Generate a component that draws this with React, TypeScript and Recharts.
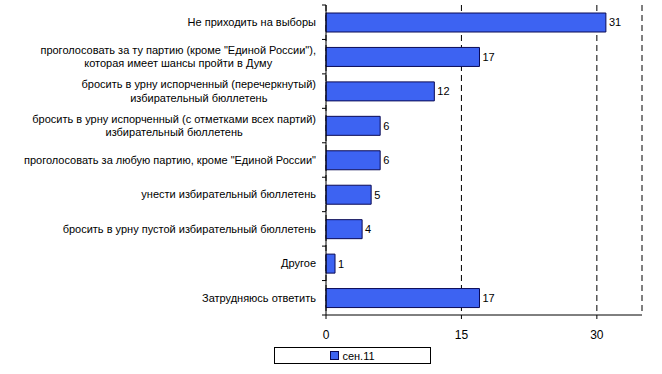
import { BarChart, Bar, XAxis, YAxis, CartesianGrid, LabelList, Legend } from "recharts";

const categories = [
  "Не приходить на выборы",
  'проголосовать за ту партию (кроме "Единой России"),\nкоторая имеет шансы пройти в Думу',
  "бросить в урну испорченный (перечеркнутый)\nизбирательный бюллетень",
  "бросить в урну испорченный (с отметками всех партий)\nизбирательный бюллетень",
  'проголосовать за любую партию, кроме "Единой России"',
  "унести избирательный бюллетень",
  "бросить в урну пустой избирательный бюллетень",
  "Другое",
  "Затрудняюсь ответить",
];
const values = [31, 17, 12, 6, 6, 5, 4, 1, 17];
const seriesName = "сен.11";
const xTicks = [0, 15, 30];
const xMax = 35;

const rows = categories.map((name, i) => ({ name, value: values[i] }));

const W = 662;
const H = 374;
const MARGIN = { top: 5, right: 20, bottom: 29, left: 0 };
const X_AXIS_H = 30;
const Y_AXIS_W = 326;
const TICK_SIZE = 4;
const TICK_MARGIN = 6;
const FONT = "Liberation Sans, Arial, sans-serif";
const BLUE = "#3d63f2";
const EDGE = "#0a0a55";

let ctx: CanvasRenderingContext2D | null = null;
function textWidth(s: string) {
  if (!ctx) ctx = document.createElement("canvas").getContext("2d");
  if (!ctx) return s.length * 5.5;
  ctx.font = `11px ${FONT}`;
  return ctx.measureText(s).width;
}

function CategoryTick(props: any) {
  const { x, y, payload, index } = props;
  const lines = String(payload.value).split("\n");
  const band = (H - MARGIN.top - MARGIN.bottom - X_AXIS_H) / categories.length;
  const axisX = x + TICK_SIZE + TICK_MARGIN;
  const blockW = Math.max(...lines.map(textWidth));
  const cx = x - blockW / 2;
  const lh = 13.4;
  return (
    <g>
      <line x1={axisX - TICK_SIZE} x2={axisX} y1={y - band / 2} y2={y - band / 2} stroke="#000" />
      {index === categories.length - 1 && (
        <line x1={axisX - TICK_SIZE} x2={axisX} y1={y + band / 2} y2={y + band / 2} stroke="#000" />
      )}
      {lines.map((l, i) => (
        <text
          key={i}
          x={cx}
          y={y + (i - (lines.length - 1) / 2) * lh}
          textAnchor="middle"
          dominantBaseline="central"
          fontSize={11}
          fill="#000"
        >
          {l}
        </text>
      ))}
    </g>
  );
}

function LegendBox() {
  return (
    <div
      style={{
        boxSizing: "border-box",
        width: "100%",
        height: "100%",
        border: "1px solid #000",
        background: "#fff",
        display: "flex",
        alignItems: "center",
        justifyContent: "center",
        fontSize: 11,
        color: "#000",
      }}
    >
      <span
        style={{
          display: "inline-block",
          width: 7,
          height: 7,
          background: BLUE,
          border: `1px solid ${EDGE}`,
          marginRight: 3,
        }}
      />
      {seriesName}
    </div>
  );
}

export default function App() {
  return (
    <div style={{ position: "absolute", left: 0, top: 0, width: W, height: H, background: "#fff", fontFamily: FONT }}>
      <BarChart width={W} height={H} data={rows} layout="vertical" margin={MARGIN}>
        <CartesianGrid horizontal={false} vertical stroke="#000" strokeDasharray="6 4" />
        <XAxis
          type="number"
          domain={[0, xMax]}
          ticks={xTicks}
          height={X_AXIS_H}
          axisLine={{ stroke: "#000" }}
          tickLine={{ stroke: "#000" }}
          tickSize={4}
          tickMargin={11}
          tick={{ fontSize: 12, fill: "#000" }}
          interval={0}
        />
        <YAxis
          type="category"
          dataKey="name"
          width={Y_AXIS_W}
          axisLine={{ stroke: "#000" }}
          tickLine={false}
          tickSize={TICK_SIZE}
          tickMargin={TICK_MARGIN}
          tick={<CategoryTick />}
          interval={0}
        />
        <Legend
          layout="horizontal"
          verticalAlign="middle"
          align="center"
          wrapperStyle={{ position: "absolute", left: 274, top: 347, width: 157, height: 17 }}
          content={() => <LegendBox />}
        />
        <Bar dataKey="value" name={seriesName} fill={BLUE} stroke={EDGE} strokeWidth={1} barSize={19} isAnimationActive={false}>
          <LabelList dataKey="value" position="right" offset={3} fontSize={11} fill="#000" />
        </Bar>
      </BarChart>
    </div>
  );
}
